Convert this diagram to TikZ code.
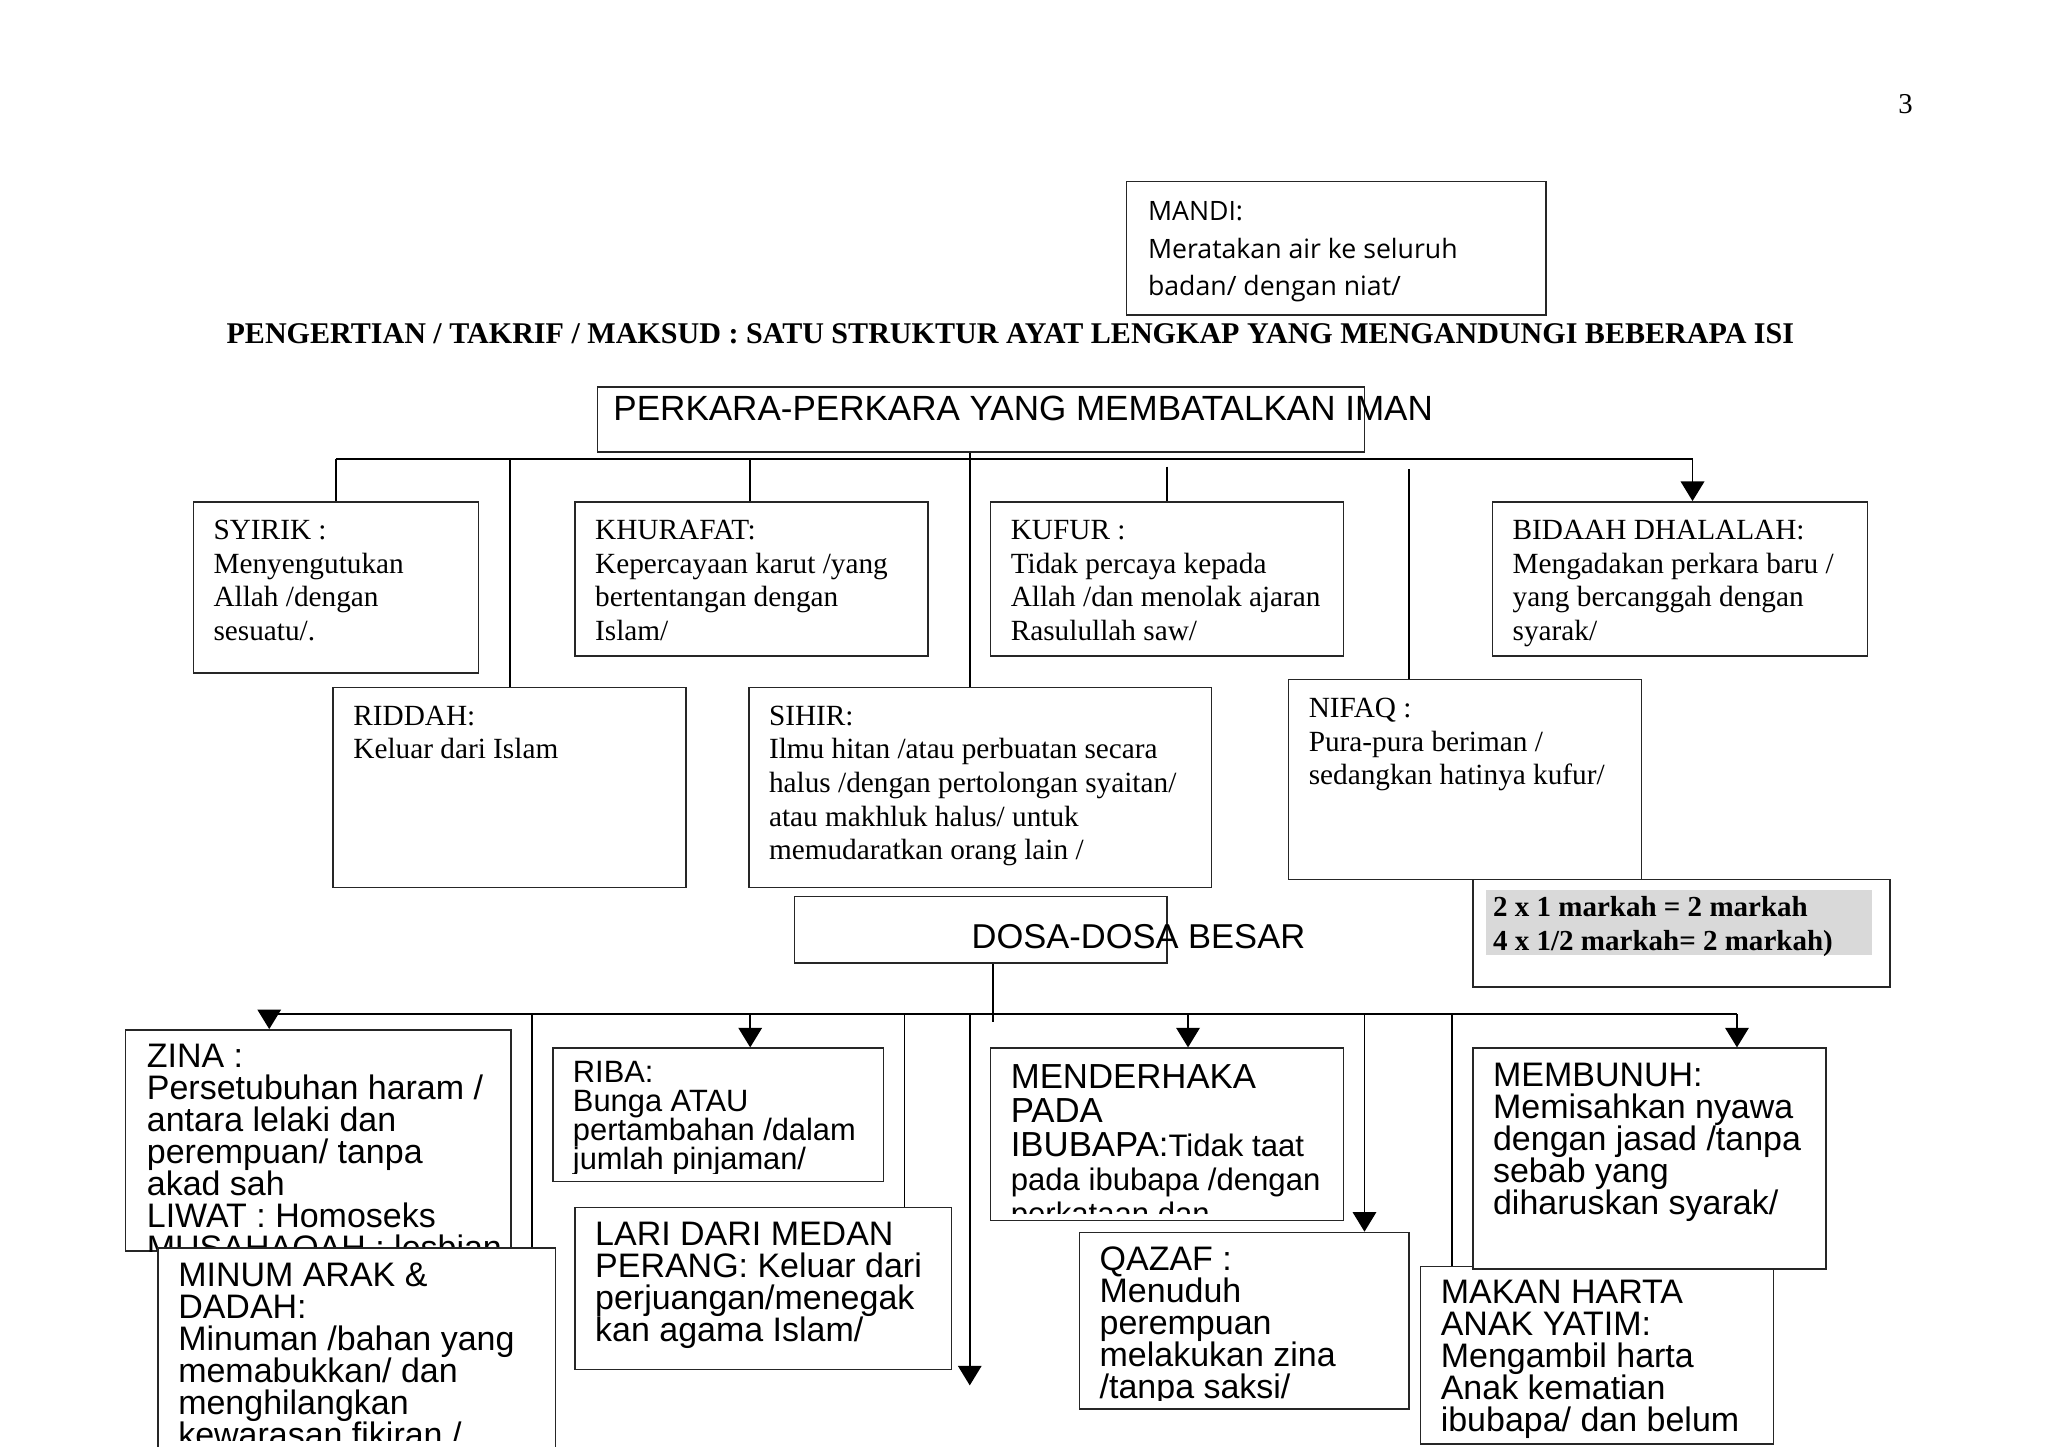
\documentclass[tikz,border=0pt]{standalone}
\usepackage{fontspec}
\setmainfont{Liberation Serif}
\newfontfamily\arialf{Liberation Sans}
\newfontfamily\comicf{Open Sans}
\usetikzlibrary{arrows.meta,fit}
\newcommand\ls[1]{\vtop{\lineskiplimit=-50pt\lineskip=0pt\halign{##\hfil\cr#1\crcr}}}
\newcommand\bx[5]{\node[box, fit={(#2,#3) (#4,#5)}] (#1) {};}
\tikzset{
  box/.style={draw=black!85, line width=0.6pt, fill=white, inner sep=0pt, rectangle},
  txt/.style={inner sep=0pt, anchor=base west},
  serif/.style={font=\fontsize{11.2}{12.85}\selectfont},
  sans/.style={font=\arialf\fontsize{13}{12.25}\selectfont},
  sanssmall/.style={font=\arialf\fontsize{11.8}{11.2}\selectfont},
  conn/.style={line width=0.65pt},
  arr/.style={conn, -{Triangle[width=9pt,length=7.5pt]}},
}
\begin{document}
\begin{tikzpicture}[x=0.5pt,y=-0.5pt]
\useasboundingbox (0,0) rectangle (1567,1107);
\fill[white] (0,0) rectangle (1567,1107);

% page number and heading
\node[txt, font=\fontsize{11}{13}\selectfont] (pageno) at (1452,87) {3};
\bx{mandi}{862}{139}{1183}{241}
\node[txt, font=\comicf\fontsize{10.2}{14.25}\selectfont] (mandit) at (878,169) {\ls{MANDI:\cr Meratakan air ke seluruh\cr badan/ dengan niat/}};
\node[txt, font=\bfseries\fontsize{11.5}{13}\selectfont] (title) at (173,263) {PENGERTIAN / TAKRIF / MAKSUD : SATU STRUKTUR AYAT LENGKAP YANG MENGANDUNGI BEBERAPA ISI};

% iman tree
\bx{perkara}{457}{296}{1044}{346}
\node[txt, font=\arialf\fontsize{13.4}{15}\selectfont] (perkarat) at (469,322) {PERKARA-PERKARA YANG MEMBATALKAN IMAN};

\bx{syirik}{148}{384}{366}{515}
\node[txt, serif] (syirikt) at (163,413) {\ls{SYIRIK :\cr Menyengutukan\cr Allah /dengan\cr sesuatu/.}};
\bx{khurafat}{440}{384}{710}{502}
\node[txt, serif] (khurafatt) at (455,413) {\ls{KHURAFAT:\cr Kepercayaan karut /yang\cr bertentangan dengan\cr Islam/}};
\bx{kufur}{758}{384}{1028}{502}
\node[txt, serif] (kufurt) at (773,413) {\ls{KUFUR :\cr Tidak percaya kepada\cr Allah /dan menolak ajaran\cr Rasulullah saw/}};
\bx{bidaah}{1142}{384}{1429}{502}
\node[txt, serif] (bidaaht) at (1157,413) {\ls{BIDAAH DHALALAH:\cr Mengadakan perkara baru /\cr yang bercanggah dengan\cr syarak/}};
\bx{riddah}{255}{526}{525}{679}
\node[txt, serif] (riddaht) at (270,555) {\ls{RIDDAH:\cr Keluar dari Islam}};
\bx{sihir}{573}{526}{927}{679}
\node[txt, serif] (sihirt) at (588,555) {\ls{SIHIR:\cr Ilmu hitan /atau perbuatan secara\cr halus /dengan pertolongan syaitan/\cr atau makhluk halus/ untuk\cr memudaratkan orang lain /}};
\bx{nifaq}{986}{520}{1256}{673}
\node[txt, serif] (nifaqt) at (1001,549) {\ls{NIFAQ :\cr Pura-pura beriman /\cr sedangkan hatinya kufur/}};

\bx{markah}{1127}{673}{1446}{755}
\fill[black!15] (1137,681) rectangle (1432,731);
\node[txt, font=\bfseries\fontsize{11.1}{13}\selectfont] (markaht) at (1142,701) {\ls{2 x 1 markah = 2 markah\cr 4 x 1/2 markah= 2 markah)}};

\coordinate (busL) at (257,351);
\coordinate (busR) at (1295,351);
\draw[conn] (busL) -- (busR);
\draw[conn] (busL) -- (busL |- syirik.north);
\coordinate (jRid) at (390,351);
\draw[conn] (jRid) -- (jRid |- riddah.north);
\coordinate (jKhu) at (574,351);
\draw[conn] (jKhu) -- (jKhu |- khurafat.north);
\coordinate (jSih) at (742,351);
\draw[conn] (perkara.south -| jSih) -- (jSih |- sihir.north);
\coordinate (jKuf) at (893,357);
\draw[conn] (jKuf) -- (jKuf |- kufur.north);
\coordinate (jNif) at (1078,359);
\draw[conn] (jNif) -- (jNif |- nifaq.north);
\draw[arr] (busR) -- (busR |- bidaah.north);

% dosa tree
\bx{dosa}{608}{686}{893}{737}
\node[txt, font=\arialf\fontsize{13.2}{15}\selectfont] (dosat) at (743,726) {DOSA-DOSA BESAR};

\coordinate (bbL) at (206,776);
\coordinate (bbR) at (1329,776);
\coordinate (stem) at (760,782);
\draw[conn] (bbL) -- (bbR);
\draw[conn] (dosa.south -| stem) -- (stem);

\bx{zina}{96}{788}{391}{957}
\begin{scope}
\clip (zina.north west) rectangle (zina.south east);
\node[txt, sans] (zinat) at (112,817) {\ls{ZINA :\cr Persetubuhan haram /\cr antara lelaki dan\cr perempuan/ tanpa\cr akad sah\cr LIWAT : Homoseks\cr MUSAHAQAH : lesbian}};
\end{scope}
\bx{minum}{121}{955}{425}{1118}
\begin{scope}
\clip (121,955) rectangle (425,1102);
\node[txt, sans] (minumt) at (136,984) {\ls{MINUM ARAK \&\cr DADAH:\cr Minuman /bahan yang\cr memabukkan/ dan\cr menghilangkan\cr kewarasan fikiran /}};
\end{scope}

\bx{riba}{423}{802}{676}{904}
\begin{scope}
\clip (riba.north west) rectangle ([yshift=3.5pt]riba.south east);
\node[txt, sanssmall] (ribat) at (438,828) {\ls{RIBA:\cr Bunga ATAU\cr pertambahan /dalam\cr jumlah pinjaman/}};
\end{scope}

\bx{lari}{440}{924}{728}{1048}
\node[txt, sans] (larit) at (455,953) {\ls{LARI DARI MEDAN\cr PERANG: Keluar dari\cr perjuangan/menegak\cr kan agama Islam/}};

\bx{derhaka}{758}{802}{1028}{934}
\begin{scope}
\clip (derhaka.north west) rectangle ([yshift=3pt]derhaka.south east);
\node[txt, font=\arialf\fontsize{13.3}{13}\selectfont] (derhakat) at (773,833) {\ls{MENDERHAKA\cr PADA\cr IBUBAPA:{\fontsize{11.9}{12}\selectfont Tidak taat}\cr {\fontsize{11.9}{12}\selectfont pada ibubapa /dengan}\cr {\fontsize{11.9}{12}\selectfont perkataan dan}}};
\end{scope}

\bx{qazaf}{826}{943}{1078}{1078}
\begin{scope}
\clip (qazaf.north west) rectangle ([yshift=3.5pt]qazaf.south east);
\node[txt, sans] (qazaft) at (841,972) {\ls{QAZAF :\cr Menuduh\cr perempuan\cr melakukan zina\cr /tanpa saksi/}};
\end{scope}

\bx{makan}{1087}{969}{1357}{1105}
\node[txt, sans] (makant) at (1102,997) {\ls{MAKAN HARTA\cr ANAK YATIM:\cr Mengambil harta\cr Anak kematian\cr ibubapa/ dan belum}};

\bx{bunuh}{1127}{802}{1397}{971}
\node[txt, sans] (bunuht) at (1142,831) {\ls{MEMBUNUH:\cr Memisahkan nyawa\cr dengan jasad /tanpa\cr sebab yang\cr diharuskan syarak/}};

\draw[arr] (bbL) -- (bbL |- zina.north);
\coordinate (jMin) at (407,776);
\draw[conn] (jMin) -- (jMin |- minum.north);
\coordinate (jRiba) at (574,776);
\draw[arr] (jRiba) -- (jRiba |- riba.north);
\coordinate (jLari) at (692,776);
\draw[conn] (jLari) -- (jLari |- lari.north);
\coordinate (jFree) at (742,776);
\coordinate (freeEnd) at (742,1060);
\draw[arr] (jFree) -- (freeEnd);
\coordinate (jDer) at (909,776);
\draw[arr] (jDer) -- (jDer |- derhaka.north);
\coordinate (jQaz) at (1044,776);
\draw[arr] (jQaz) -- (jQaz |- qazaf.north);
\coordinate (jMak) at (1111,776);
\draw[conn] (jMak) -- (jMak |- makan.north);
\draw[arr] (bbR) -- (bbR |- bunuh.north);
\end{tikzpicture}
\end{document}
